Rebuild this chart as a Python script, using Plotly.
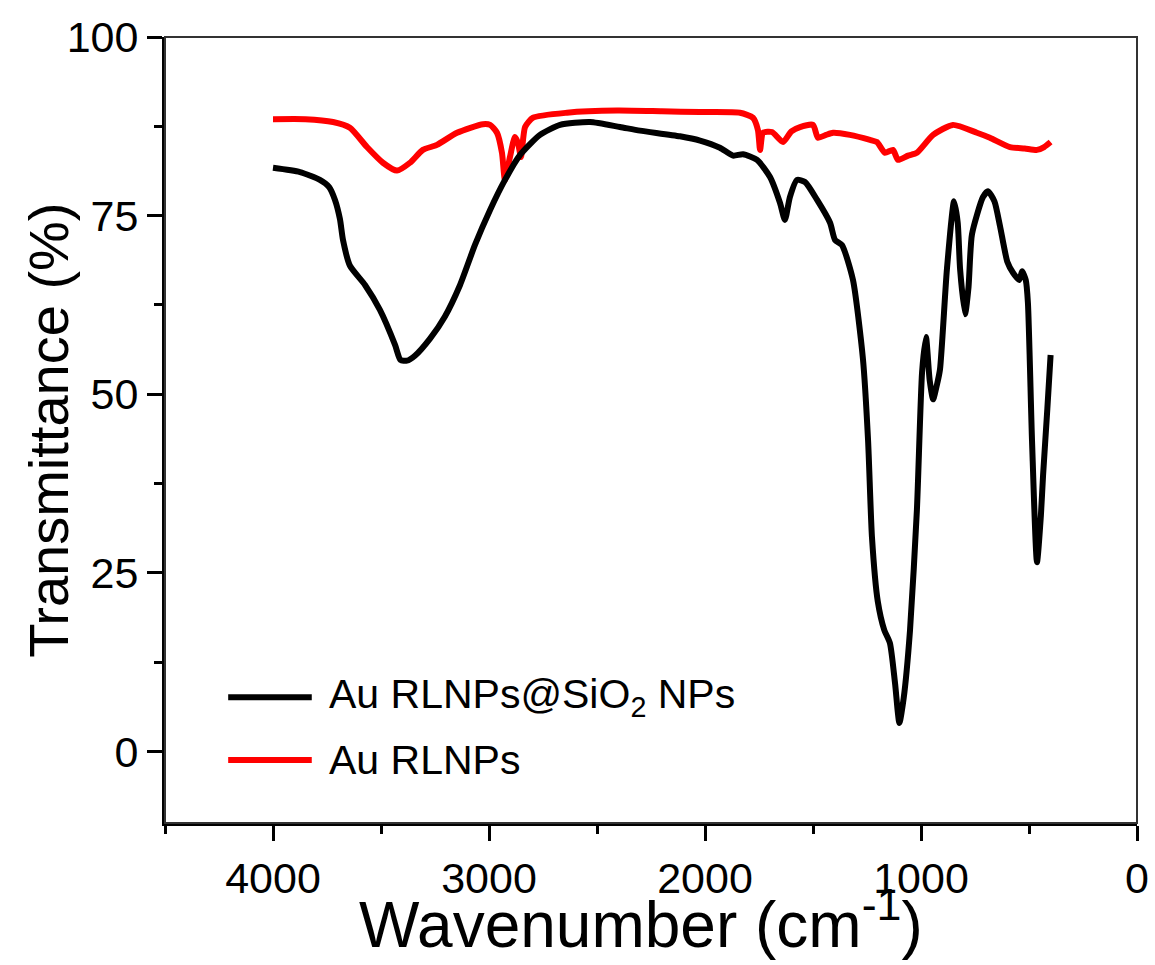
import plotly.graph_objects as go

# Au RLNPs@SiO2 NPs (black)
wn_sio2 = [4000, 3875, 3783, 3740, 3713, 3690, 3676, 3644, 3574, 3505, 3435, 3410, 3380, 3343,
           3273, 3204, 3134, 3065, 2995, 2926, 2856, 2764, 2671, 2532, 2394, 2301, 2116, 2023,
           1931, 1870, 1824, 1759, 1699, 1653, 1630, 1607, 1574, 1537, 1481, 1421, 1398, 1366,
           1315, 1269, 1245, 1227, 1200, 1170, 1144, 1120, 1100, 1080, 1051, 1019, 995, 977,
           960, 944, 925, 912, 880, 847, 830, 819, 796, 780, 764, 713, 690, 660, 634, 600,
           574, 545, 532, 515, 505, 486, 463, 445, 435, 415, 400]
tr_sio2 = [81.7, 81.1, 80.0, 79.0, 77.2, 74.5, 71.6, 68.0, 65.3, 61.8, 56.9, 54.8, 54.7, 55.4,
           57.8, 60.9, 65.3, 70.9, 75.8, 80.0, 83.5, 86.3, 87.7, 88.1, 87.4, 86.9, 86.1, 85.5,
           84.5, 83.4, 83.6, 82.8, 80.4, 76.8, 74.4, 77.6, 80.0, 79.7, 77.2, 74.0, 71.6, 70.9,
           66.0, 55.0, 43.5, 30.0, 21.0, 17.0, 15.2, 9.5, 4.0, 7.5, 16.9, 33.8, 53.1, 58.0,
           52.0, 49.3, 51.5, 53.5, 67.5, 77.0, 74.0, 67.5, 61.2, 65.0, 72.4, 77.6, 78.4, 77.0,
           73.5, 68.5, 67.0, 66.0, 67.2, 66.0, 62.8, 43.5, 26.5, 33.0, 38.6, 48.0, 55.5]

# Au RLNPs (red)
wn_au = [4000, 3850, 3722, 3644, 3565, 3491, 3426, 3366, 3306, 3241, 3148, 3028, 2995, 2963,
         2940, 2926, 2903, 2880, 2866, 2852, 2833, 2796, 2639, 2407, 2200, 2023, 1838, 1778,
         1755, 1745, 1731, 1690, 1639, 1600, 1560, 1500, 1477, 1440, 1407, 1329, 1236, 1204,
         1167, 1130, 1106, 1060, 1019, 944, 852, 741, 681, 588, 520, 463, 430, 400]
tr_au = [88.5, 88.5, 88.1, 87.3, 84.6, 82.4, 81.3, 82.4, 84.2, 84.9, 86.6, 87.8, 87.7, 86.6,
         83.8, 80.0, 83.2, 86.0, 85.2, 83.2, 87.4, 88.7, 89.4, 89.7, 89.6, 89.5, 89.4, 88.7,
         87.0, 84.2, 86.6, 86.7, 85.3, 86.8, 87.4, 87.7, 85.9, 86.3, 86.6, 86.3, 85.6, 85.3,
         83.8, 84.2, 82.8, 83.4, 83.8, 86.3, 87.7, 86.6, 85.9, 84.6, 84.4, 84.2, 84.6, 85.3]

x_ticks = [4000, 3000, 2000, 1000, 0]
y_ticks = [0, 25, 50, 75, 100]
series_names = ["Au RLNPs@SiO<sub>2</sub> NPs", "Au RLNPs"]
series_colors = ["#000000", "#ff0000"]
x_title = "Wavenumber (cm<sup>-1</sup>)"
y_title = "Transmittance (%)"

FONT = "Arial, Liberation Sans, sans-serif"

fig = go.Figure()
fig.add_trace(go.Scatter(x=wn_au, y=tr_au, mode="lines", name=series_names[1],
                         line=dict(color=series_colors[1], width=6, shape="spline", smoothing=0.6)))
fig.add_trace(go.Scatter(x=wn_sio2, y=tr_sio2, mode="lines", name=series_names[0],
                         line=dict(color=series_colors[0], width=6, shape="spline", smoothing=0.6)))

axis_common = dict(
    showline=True, linecolor="black", linewidth=3, ticks="outside", ticklen=15,
    tickwidth=2.5, tickcolor="black", showgrid=False, zeroline=False, automargin=False,
    tickfont=dict(family=FONT, size=43, color="black"),
)

fig.update_xaxes(
    range=[4500, 0], tickvals=x_ticks, ticktext=[str(v) for v in x_ticks],
    minor=dict(ticks="outside", ticklen=8, tickwidth=2.5, tickcolor="black",
               tickvals=[4500, 3500, 2500, 1500, 500]),
    **axis_common,
)
fig.update_yaxes(
    range=[-10, 100], tickvals=y_ticks, ticktext=[str(v) for v in y_ticks],
    minor=dict(ticks="outside", ticklen=8, tickwidth=2.5, tickcolor="black",
               tickvals=[12.5, 37.5, 62.5, 87.5]),
    **axis_common,
)

# axis titles
fig.add_annotation(xref="paper", yref="paper", x=0.49, y=-0.178, text=x_title,
                   showarrow=False, xanchor="center", yanchor="bottom",
                   font=dict(family=FONT, size=64, color="black"))
fig.add_annotation(xref="paper", yref="paper", x=-0.155, y=0.5, text=y_title,
                   showarrow=False, xanchor="left", yanchor="middle", textangle=-90,
                   font=dict(family=FONT, size=56, color="black"))

# thin frame (top / right)
fig.add_shape(type="rect", xref="paper", yref="paper", x0=0, y0=0, x1=1, y1=1,
              line=dict(color="#333333", width=2), layer="above")

# manual legend
leg_y = [0.160, 0.080]
for i, (name, col) in enumerate(zip(series_names, series_colors)):
    fig.add_shape(type="line", xref="paper", yref="paper", x0=0.065, x1=0.151,
                  y0=leg_y[i], y1=leg_y[i], line=dict(color=col, width=6))
    fig.add_annotation(xref="paper", yref="paper", x=0.167, y=leg_y[i], text=name,
                       showarrow=False, xanchor="left", yanchor="middle",
                       font=dict(family=FONT, size=41, color="black"))

fig.update_layout(
    width=1155, height=965,
    margin=dict(l=165, r=18, t=37, b=142),
    plot_bgcolor="white", paper_bgcolor="white",
    showlegend=False,
)

fig.write_html("out.html")
